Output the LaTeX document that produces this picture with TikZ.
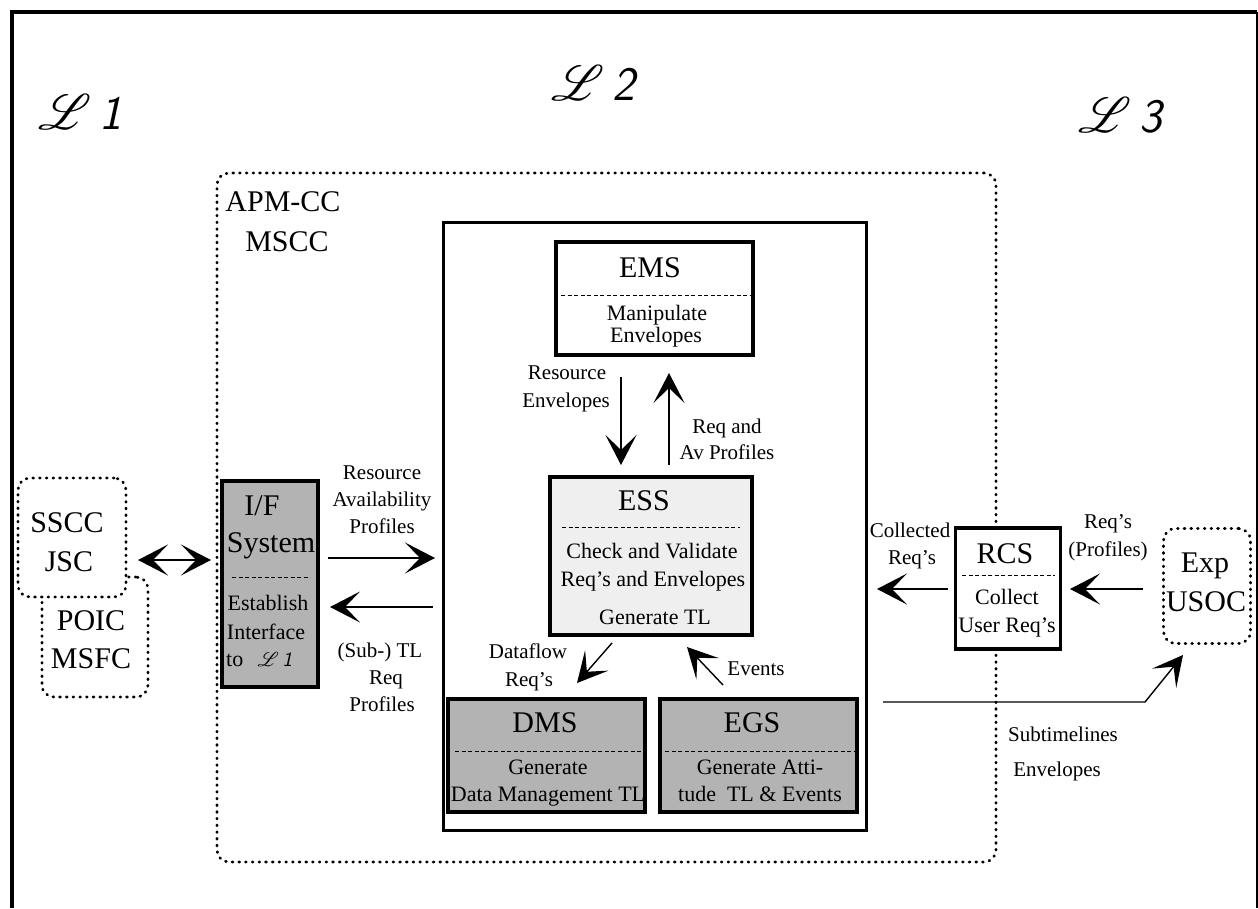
\documentclass[tikz,border=0pt]{standalone}
\usepackage{fontspec}
\setmainfont{Liberation Serif}
\usepackage{mathrsfs}
\usetikzlibrary{arrows.meta}
\definecolor{darkfill}{HTML}{B3B3B3}
\definecolor{lightfill}{HTML}{EFEFEF}
\newcommand{\scrlev}[1]{$\mathscr{L}$\,{\sffamily\slshape #1}}
\begin{document}
\begin{tikzpicture}[x=1pt,y=-1pt,
  box/.style={draw, line width=3.5pt, inner sep=0pt},
  dotbox/.style={draw, rounded corners=12pt, line width=2.8pt, line cap=round, dash pattern=on 0.8pt off 5.9pt, inner sep=0pt},
  sepline/.style={line width=0.9pt, dash pattern=on 4pt off 2.5pt},
  ttl/.style={font=\fontsize{30}{32}\selectfont, inner sep=0pt, text height=19.5pt, text depth=0pt},
  bod/.style={font=\fontsize{22}{24}\selectfont, inner sep=0pt, text height=14.5pt, text depth=0pt},
  lbl/.style={font=\fontsize{21}{24}\selectfont, inner sep=0pt, text height=14pt, text depth=0pt},
  level/.style={font=\fontsize{20}{24}\selectfont, inner sep=0pt, scale=2.4, transform shape},
  arr/.style={line width=1.4pt, -{Stealth[length=30pt,width=31pt,inset=15pt]}},
  darr/.style={line width=1.4pt, {Stealth[length=30pt,width=31pt,inset=15pt]}-{Stealth[length=30pt,width=31pt,inset=15pt]}}
]
\useasboundingbox (0,0) rectangle (1258,908);
% outer frame
\draw[line width=4pt] (12,908) -- (12,12) -- (1257,12);
\draw[line width=2pt] (1257,12) -- (1257,908);

% level labels
\node[level] (l1) at (80,112) {\scrlev{1}};
\node[level] (l2) at (593,83) {\scrlev{2}};
\node[level] (l3) at (1120,115) {\scrlev{3}};

% APM-CC dotted region
\node[dotbox, minimum width=779pt, minimum height=689pt] (apm) at (606.5,517.5) {};
\node[ttl] (apmt) at (283,202) {APM-CC};
\node[ttl] (mscc) at (287,242) {MSCC};

% inner solid box
\node[box, line width=3pt, minimum width=423pt, minimum height=608pt] (inner) at (654.5,526) {};

% EMS
\node[box, minimum width=197pt, minimum height=113pt] (ems) at (654.5,298.5) {};
\node[ttl] (emst) at (650,268) {EMS};
\draw[sepline] (561,295) -- (750,295);
\node[bod] (emsb1) at (657,313) {Manipulate};
\node[bod] (emsb2) at (656,335) {Envelopes};

% ESS
\node[box, fill=lightfill, minimum width=202pt, minimum height=158pt] (ess) at (651,556) {};
\node[ttl] (esst) at (644,501) {ESS};
\draw[sepline] (562,527) -- (740,527);
\node[bod] (essb1) at (652,551) {Check and Validate};
\node[bod] (essb2) at (653,579) {Req's and Envelopes};
\node[bod] (essb3) at (655,617) {Generate TL};

% DMS
\node[box, fill=darkfill, minimum width=197pt, minimum height=113pt] (dms) at (546.5,755.5) {};
\node[ttl] (dmst) at (545,723) {DMS};
\draw[sepline] (455,751) -- (643,751);
\node[bod] (dmsb1) at (548,767) {Generate};
\node[bod] (dmsb2) at (548,794) {Data Management TL};

% EGS
\node[box, fill=darkfill, minimum width=197pt, minimum height=113pt] (egs) at (758.5,755.5) {};
\node[ttl] (egst) at (752,723) {EGS};
\draw[sepline] (665,751) -- (855,751);
\node[bod] (egsb1) at (760,767) {Generate Atti-};
\node[bod] (egsb2) at (760,794) {tude\ \ TL \& Events};

% I/F system
\node[box, fill=darkfill, minimum width=96pt, minimum height=206pt] (ifs) at (270,584) {};
\node[ttl] (ift1) at (262,506) {I/F};
\node[ttl] (ift2) at (271,543) {System};
\draw[sepline] (232,577) -- (310,577);
\node[bod] (ifb1) at (268,603) {Establish};
\node[bod] (ifb2) at (266,632) {Interface};
\node[bod, anchor=west] (ifb3) at (226,659) {to};
\node[font=\fontsize{10}{12}\selectfont, inner sep=0pt, scale=2, transform shape] (ifl) at (275,659) {\scrlev{1}};

% SSCC / POIC
\node[dotbox, minimum width=106pt, minimum height=120pt] (poic) at (95,637) {};
\node[dotbox, fill=white, minimum width=108pt, minimum height=119pt] (sscc) at (72,537.5) {};
\node[ttl] (sscct1) at (67,523) {SSCC};
\node[ttl] (sscct2) at (69,562) {JSC};
\node[ttl] (poict1) at (91,621) {POIC};
\node[ttl] (poict2) at (91,659) {MSFC};

% RCS
\node[box, fill=white, minimum width=105pt, minimum height=121pt] (rcs) at (1008,588.5) {};
\node[ttl] (rcst) at (1005,554) {RCS};
\draw[sepline] (962,575) -- (1055,575);
\node[bod] (rcsb1) at (1007,597) {Collect};
\node[bod] (rcsb2) at (1007,625) {User Req's};

% Exp USOC
\node[dotbox, minimum width=87pt, minimum height=115pt] (exp) at (1207,586) {};
\node[ttl] (expt1) at (1205,563) {Exp};
\node[ttl] (expt2) at (1206,602) {USOC};

% labels
\node[lbl] (ra1) at (382,472) {Resource};
\node[lbl] (ra2) at (382,499) {Availability};
\node[lbl] (ra3) at (382,526) {Profiles};
\node[lbl] (st1) at (380,650) {(Sub-) TL};
\node[lbl] (st2) at (386,677) {Req};
\node[lbl] (st3) at (382,704) {Profiles};
\node[lbl] (re1) at (567,372) {Resource};
\node[lbl] (re2) at (566,400) {Envelopes};
\node[lbl] (ra4) at (727,426) {Req and};
\node[lbl] (ra5) at (727,452) {Av Profiles};
\node[lbl] (df1) at (528,651) {Dataflow};
\node[lbl] (df2) at (529,679) {Req's};
\node[lbl] (ev) at (756,668) {Events};
\node[lbl] (cr1) at (910,530) {Collected};
\node[lbl] (cr2) at (912,557) {Req's};
\node[lbl] (rp1) at (1108,521) {Req's};
\node[lbl] (rp2) at (1108,549) {(Profiles)};
\node[lbl] (sub1) at (1063,734) {Subtimelines};
\node[lbl] (sub2) at (1057,769) {Envelopes};

% arrow end points
\coordinate (a1s) at (138,560);  \coordinate (a1e) at (211,560);
\coordinate (a2s) at (328,558);  \coordinate (a2e) at (435,558);
\coordinate (a3s) at (433,607);  \coordinate (a3e) at (330,607);
\coordinate (a4s) at (621,377);  \coordinate (a4e) at (621,465);
\coordinate (a5s) at (669,465);  \coordinate (a5e) at (669,373);
\coordinate (a6s) at (612,643);  \coordinate (a6e) at (577,683);
\coordinate (a7s) at (723,685);  \coordinate (a7e) at (687,647);
\coordinate (a8s) at (948,589);  \coordinate (a8e) at (877,589);
\coordinate (a9s) at (1143,589); \coordinate (a9e) at (1070,589);
\coordinate (b0s) at (883,702);  \coordinate (b0m) at (1145,702); \coordinate (b0e) at (1183,655);

\draw[darr] (a1s) -- (a1e);
\draw[arr] (a2s) -- (a2e);
\draw[arr] (a3s) -- (a3e);
\draw[arr] (a4s) -- (a4e);
\draw[arr] (a5s) -- (a5e);
\draw[arr] (a6s) -- (a6e);
\draw[arr] (a7s) -- (a7e);
\draw[arr] (a8s) -- (a8e);
\draw[arr] (a9s) -- (a9e);
\draw[arr] (b0s) -- (b0m) -- (b0e);
\end{tikzpicture}
\end{document}
